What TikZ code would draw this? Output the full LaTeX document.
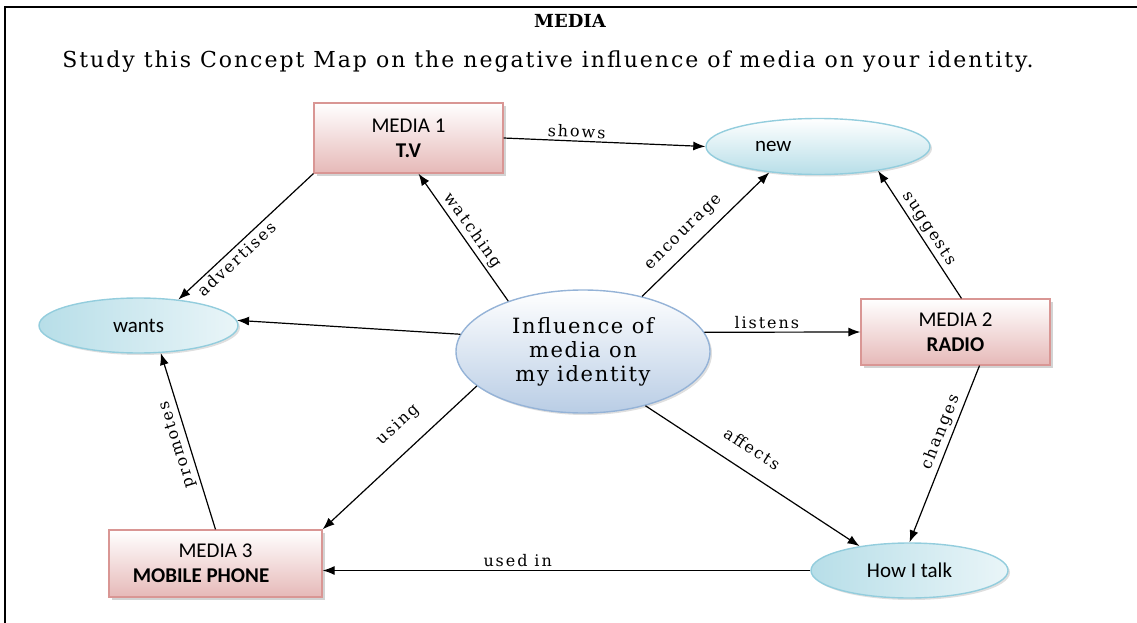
\documentclass[tikz,border=0pt]{standalone}
\usepackage{fontspec}
\setmainfont{DejaVu Serif}
\newfontfamily\boxfont{Carlito}
\newfontfamily\wideserif[LetterSpace=9]{DejaVu Serif}
\newfontfamily\centreserif[LetterSpace=8]{DejaVu Serif}
\newfontfamily\tagserif[LetterSpace=12]{DejaVu Serif}
\usetikzlibrary{shapes.geometric, arrows.meta, shadows}

\definecolor{boxpink}{HTML}{E6B9B8}
\definecolor{boxedge}{HTML}{D99694}
\definecolor{bubblecyan}{HTML}{B7DEE8}
\definecolor{bubbleedge}{HTML}{93CDDD}
\definecolor{centreblue}{HTML}{B9CDE5}
\definecolor{centreedge}{HTML}{95B3D7}

\begin{document}
\begin{tikzpicture}[x=1pt, y=-1pt,
   mediabox/.style={draw=boxedge, line width=1.2pt, top color=white, bottom color=boxpink,
      minimum width=189pt, minimum height=68pt, align=center,
      font=\boxfont\fontsize{21}{25}\selectfont,
      drop shadow={shadow xshift=3pt, shadow yshift=-3pt, opacity=.35}},
   bubble/.style={ellipse, draw=bubbleedge, line width=1.4pt, inner sep=0pt,
      left color=bubblecyan, right color=bubblecyan!30,
      font=\boxfont\fontsize{21}{23}\selectfont,
      drop shadow={shadow xshift=2pt, shadow yshift=-2pt, opacity=.25}},
   link/.style={-{Latex[length=12pt, width=9pt]}, line width=1.2pt},
   tag/.style={sloped, inner sep=3pt, font=\tagserif\fontsize{16}{18}\selectfont}]
   \useasboundingbox (0,0) rectangle (1137,623);
   \draw [line width=1.5pt] (5,623) -- (5,7) -- (1137,7);

   \node [font=\bfseries\fontsize{18}{20}\selectfont] (title) at (570,21) {MEDIA};
   \node [font=\wideserif\fontsize{22}{24}\selectfont] (intro) at (548,62)
      {Study this Concept Map on the negative influence of media on your identity.};

   % the three media
   \node [mediabox, minimum height=70pt] (tv) at (408.5,138) {MEDIA 1\\\textbf{T.V}};
   \node [mediabox, minimum height=66pt] (radio) at (955.5,332) {MEDIA 2\\\textbf{RADIO}};
   \node [mediabox, minimum width=213pt, minimum height=67pt] (mobile) at (215.5,563.5)
      {MEDIA 3\\\hspace*{-29pt}\textbf{MOBILE PHONE}};

   % what they touch
   \node [bubble, minimum width=199pt, minimum height=55pt] (wants) at (138.5,325.5) {wants};
   \node [bubble, minimum width=224pt, minimum height=56pt, top color=white, bottom color=bubblecyan]
      (new) at (818,146.5) {\makebox[126pt][l]{new}};
   \node [bubble, minimum width=197pt, minimum height=55pt] (talk) at (909.5,570.5) {How I talk};
   \node [bubble, draw=centreedge, top color=white, bottom color=centreblue,
      minimum width=254pt, minimum height=123pt, align=center,
      font=\centreserif\fontsize{21}{24}\selectfont] (centre) at (583,351.5)
      {Influence of\\media on\\my identity};

   \draw [link] (tv.south west) -- node [tag, below, pos=.62] {advertises} (wants.33);
   \draw [link] (centre.146) -- node [tag, above] {watching} ([xshift=10pt]tv.south);
   \draw [link] (tv.east) -- node [tag, above, pos=.36] {shows} (new.west);
   \draw [link] (centre.43) -- node [tag, above=6pt, pos=.42] {encourage} (new.208);
   \draw [link] ([xshift=6pt]radio.north) -- node [tag, above] {suggests} (new.-22);
   \draw [link] (centre.172) -- (wants.3);
   \draw [link] (centre.9) -- node [tag, above, pos=.4] {listens} (radio.west);
   \draw [link] (centre.198) -- node [tag, above=14pt, pos=.4] {using} (mobile.north east);
   \draw [link] (centre.-41) -- node [tag, above=13pt, pos=.44] {affects} (talk.154);
   \draw [link] ([xshift=24pt]radio.south) -- node [tag, above, pos=.4] {changes} (talk.north);
   \draw [link] (talk.west) -- node [tag, above, pos=.6] {used in} (talk.west -| mobile.east);
   \draw [link] (mobile.north) -- node [tag, above, allow upside down] {promotes} (wants.-51);
\end{tikzpicture}
\end{document}
